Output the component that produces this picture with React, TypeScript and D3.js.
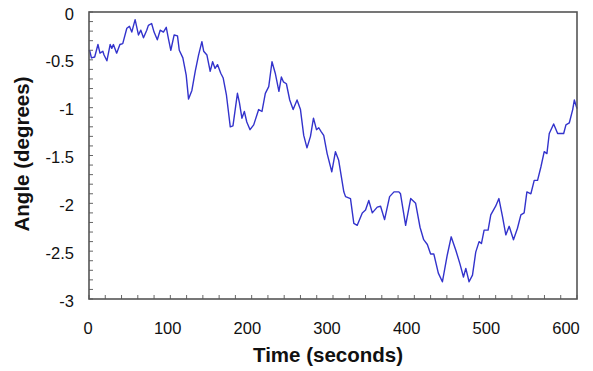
import React from 'react';
import * as d3 from 'd3';

const times = [
  0, 1, 3, 7, 11, 13.5, 17, 18.5, 22, 26, 28, 30, 34, 38, 41.5, 46.5, 49.7, 52.6, 56.7, 60.8,
  63.7, 67, 71, 73, 77, 80, 84, 87.5, 91.5, 95, 97.7, 100.6, 104.7, 108.8, 111, 115.4, 119.5, 122.4, 126.5, 130.6,
  134.7, 138.8, 141, 145, 149, 152, 155, 158, 162, 165, 169, 173.7, 177, 182.5, 185, 188, 191, 194, 198, 202.5,
  208.6, 212.7, 216.8, 221, 225, 229, 233.5, 236.5, 239, 242.7, 246.8, 251, 255.8, 260, 264, 268, 272.3, 276, 279.7, 282.5,
  285.4, 288.6, 292.8, 298.5, 303, 307, 313.3, 315.4, 321.5, 325.6, 329.8, 336, 340, 344, 348.3, 354.4, 358.5, 363.4, 369.6, 375,
  381, 383, 389.3, 395.5, 401.6, 407, 411.5, 416, 420, 424, 429.5, 434.5, 440.5, 445.3, 451, 456, 460.4, 463.3, 467.3, 471.5,
  475.5, 479.6, 482.5, 485.8, 490.7, 494, 500, 504, 508.4, 512.5, 516.6, 521.9, 526.8, 531, 535, 538.4, 543.3, 547.4, 551.5, 555.6,
  559.7, 563, 565.9, 571.3, 576.2, 583.6, 586.4, 590.5, 594.7, 596.7, 600,
];
const angles = [
  -0.40, -0.41, -0.48, -0.47, -0.34, -0.43, -0.41, -0.45, -0.51, -0.34, -0.38, -0.34, -0.43, -0.34, -0.33, -0.17, -0.15, -0.21, -0.08, -0.24,
  -0.19, -0.27, -0.19, -0.14, -0.12, -0.21, -0.29, -0.19, -0.21, -0.16, -0.28, -0.40, -0.24, -0.25, -0.40, -0.48, -0.66, -0.91, -0.82, -0.62,
  -0.45, -0.31, -0.41, -0.45, -0.62, -0.52, -0.59, -0.55, -0.64, -0.69, -0.87, -1.20, -1.19, -0.85, -0.95, -1.11, -1.04, -1.15, -1.23, -1.18,
  -1.02, -1.04, -0.85, -0.78, -0.52, -0.64, -0.83, -0.68, -0.73, -0.75, -0.92, -1.02, -0.92, -1.02, -1.29, -1.42, -1.30, -1.11, -1.23, -1.21,
  -1.25, -1.29, -1.48, -1.67, -1.46, -1.55, -1.88, -1.93, -1.95, -2.21, -2.23, -2.10, -2.07, -1.97, -2.10, -2.04, -2.03, -2.17, -1.93, -1.88,
  -1.88, -1.90, -2.23, -1.95, -2.00, -2.25, -2.38, -2.43, -2.53, -2.53, -2.73, -2.82, -2.54, -2.35, -2.49, -2.63, -2.77, -2.68, -2.82, -2.75,
  -2.51, -2.40, -2.42, -2.28, -2.28, -2.12, -2.03, -1.95, -2.14, -2.33, -2.24, -2.38, -2.26, -2.12, -2.10, -1.88, -1.90, -1.76, -1.76, -1.62,
  -1.46, -1.48, -1.27, -1.17, -1.27, -1.27, -1.18, -1.16, -1.02, -0.92, -1.01,
];

const xTickLabels = [0, 100, 200, 300, 400, 500, 600];
const yTickLabels = [0, -0.5, -1, -1.5, -2, -2.5, -3];

const width = 593;
const height = 371;
const left = 89;
const right = 577;
const top = 12;
const bottom = 299;

export default function App() {
  const x = d3.scaleLinear().domain([0, 600]).range([left, right]);
  const y = d3.scaleLinear().domain([-3, 0]).range([bottom, top]);
  // tick labels in the original sit a bit left of their ticks
  const xLabel = d3.scaleLinear().domain([0, 600]).range([88, 566]);

  const points = times.map((t, i) => [t, angles[i]] as [number, number]);
  const line = d3.line<[number, number]>()
    .x(d => x(d[0]))
    .y(d => y(d[1]));

  const xMinor = d3.range(0, 601, 20);
  const yMinor = d3.range(0, 31).map(i => -i / 10);

  const font = 'Arial, "Liberation Sans", sans-serif';

  return (
    <svg width={width} height={height} style={{ position: 'absolute', left: 0, top: 0, background: '#fff' }}>
      {xMinor.map(t => (
        <line key={'xt' + t} x1={x(t)} x2={x(t)} y1={bottom} y2={bottom - 4} stroke="#666" strokeWidth={1} />
      ))}
      {yMinor.map(v => (
        <line key={'yt' + v} x1={left} x2={left + 4} y1={y(v)} y2={y(v)} stroke="#666" strokeWidth={1} />
      ))}
      <path d={line(points) || ''} fill="none" stroke="#3333cc" strokeWidth={1.4} strokeLinejoin="round" />
      <rect x={left} y={top} width={right - left} height={bottom - top} fill="none" stroke="#555" strokeWidth={1.6} />
      {xTickLabels.map(t => (
        <text key={'xl' + t} x={xLabel(t)} y={334} textAnchor="middle" fontFamily={font} fontSize={16.5} fill="#111">
          {t}
        </text>
      ))}
      {yTickLabels.map(v => (
        <text key={'yl' + v} x={74} y={y(v) + 1.5} textAnchor="end" dominantBaseline="central" fontFamily={font} fontSize={16.5} fill="#111">
          {v}
        </text>
      ))}
      <text x={328} y={362} textAnchor="middle" fontFamily={font} fontSize={20.5} fontWeight="bold" fill="#111">
        Time (seconds)
      </text>
      <text transform="translate(29,154) rotate(-90)" textAnchor="middle" fontFamily={font} fontSize={20.5} fontWeight="bold" fill="#111">
        Angle (degrees)
      </text>
    </svg>
  );
}
